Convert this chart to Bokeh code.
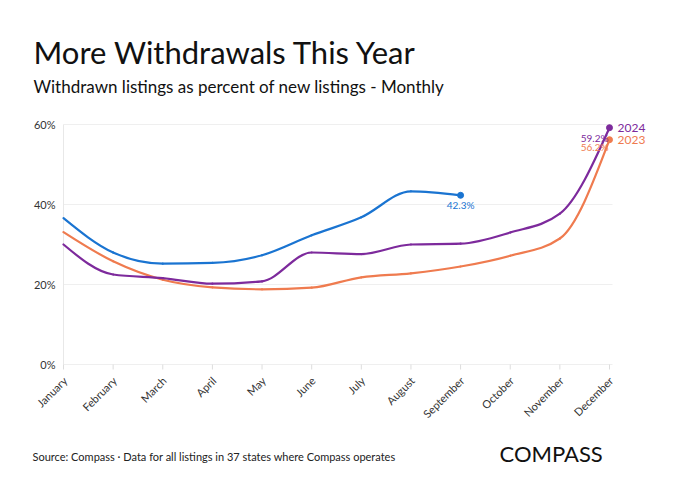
import numpy as np
from math import pi
from bokeh.plotting import figure
from bokeh.models import Range1d, Label
from bokeh.core.properties import value
from bokeh.embed import file_html
from bokeh.resources import INLINE

months = ["January", "February", "March", "April", "May", "June", "July",
          "August", "September", "October", "November", "December"]
y_ticks = [0, 20, 40, 60]
this_year = [36.6, 28.0, 25.2, 25.4, 27.3, 32.3, 36.8, 43.3, 42.3]
y2024 = [30.0, 22.5, 21.6, 20.2, 20.8, 28.0, 27.6, 30.0, 30.2, 33.0, 37.7, 59.2]
y2023 = [33.1, 25.8, 21.2, 19.3, 18.8, 19.2, 21.8, 22.8, 24.5, 27.2, 31.5, 56.2]

title = "More Withdrawals This Year"
subtitle = "Withdrawn listings as percent of new listings - Monthly"
source = "Source: Compass \u00b7 Data for all listings in 37 states where Compass operates"
logo = "COMPASS"

BLUE = "#1a74d1"
PURPLE = "#7d2a9c"
ORANGE = "#ef7b4f"
FONT = "Lato"
W, H = 672, 483
LEFT = 63        # canvas x of January / the y axis
STEP = 49.636    # pixels per month
BASE = 364       # canvas y of 0%
PPU = 4.0        # pixels per percentage point


def X(px):
    return (px - LEFT) / STEP


def Y(py):
    return (BASE - py) / PPU


def monotone_beziers(ys):
    xs = np.arange(len(ys), dtype=float)
    ys = np.asarray(ys, dtype=float)
    n = len(xs)
    h = np.diff(xs)
    s = np.diff(ys) / h
    t = np.zeros(n)
    for i in range(1, n - 1):
        h0, h1 = h[i - 1], h[i]
        s0, s1 = s[i - 1], s[i]
        p_ = (s0 * h1 + s1 * h0) / (h0 + h1)
        t[i] = (np.sign(s0) + np.sign(s1)) * min(abs(s0), abs(s1), 0.5 * abs(p_))
    t[0] = (3 * s[0] - t[1]) / 2
    t[-1] = (3 * s[-1] - t[-2]) / 2
    dx = h / 3.0
    return dict(x0=xs[:-1], y0=ys[:-1], x1=xs[1:], y1=ys[1:],
                cx0=xs[:-1] + dx, cy0=ys[:-1] + dx * t[:-1],
                cx1=xs[1:] - dx, cy1=ys[1:] - dx * t[1:])


p = figure(width=W, height=H, output_backend="svg", toolbar_location=None,
           title=None,
           x_range=Range1d(X(0), X(W)), y_range=Range1d(Y(H), Y(0)),
           min_border_left=0, min_border_right=0, min_border_top=0,
           min_border_bottom=0, x_axis_location=None, y_axis_location=None)
p.outline_line_color = None
p.xgrid.visible = False
p.ygrid.visible = False

tick_x = list(range(len(months)))
x_end = X(612)

# grid, axis line, ticks
p.segment(x0=[0] * len(y_ticks), x1=[x_end] * len(y_ticks), y0=y_ticks, y1=y_ticks,
          line_color="#efefef", line_width=1)
p.segment(x0=[0], x1=[0], y0=[0], y1=[y_ticks[-1]], line_color="#e8e8e8", line_width=1)
p.segment(x0=tick_x, x1=tick_x, y0=[0] * len(tick_x), y1=[-5 / PPU] * len(tick_x),
          line_color="#dddddd", line_width=1)

# axis labels
p.text(x=[-8 / STEP] * len(y_ticks), y=y_ticks, text=[f"{v}%" for v in y_ticks],
       text_font=value(FONT), text_font_size="11px", text_color="#333333",
       text_align="right", text_baseline="middle")
p.text(x=[i + 1.5 / STEP for i in tick_x], y=[-14 / PPU] * len(tick_x), text=months,
       angle=pi / 4, text_font=value(FONT), text_font_size="11px", text_color="#333333",
       text_align="right", text_baseline="middle")

# series
for ys, col in [(y2023, ORANGE), (y2024, PURPLE), (this_year, BLUE)]:
    seg = monotone_beziers(ys)
    p.bezier(line_color=col, line_width=2.2, line_cap="round", **seg)
    p.scatter([len(ys) - 1], [ys[-1]], size=6, color=col)

lbl = dict(text_font=FONT)
p.add_layout(Label(x=len(this_year) - 1, y=this_year[-1], text=f"{this_year[-1]:.1f}%",
                   text_color=BLUE, text_font_size="10px", text_align="center",
                   text_baseline="middle", y_offset=-10, **lbl))
p.add_layout(Label(x=len(y2024) - 1, y=y2024[-1], text=f"{y2024[-1]:.1f}%",
                   text_color=PURPLE, text_font_size="10px", text_align="right",
                   text_baseline="middle", x_offset=-1, y_offset=-10, **lbl))
p.add_layout(Label(x=len(y2023) - 1, y=y2023[-1], text=f"{y2023[-1]:.1f}%",
                   text_color=ORANGE, text_font_size="10px", text_align="right",
                   text_baseline="middle", x_offset=-1, y_offset=-7, **lbl))
p.add_layout(Label(x=len(y2024) - 1, y=y2024[-1], text="2024",
                   text_color=PURPLE, text_font_size="12px", text_align="left",
                   text_baseline="middle", x_offset=8, **lbl))
p.add_layout(Label(x=len(y2023) - 1, y=y2023[-1], text="2023",
                   text_color=ORANGE, text_font_size="12px", text_align="left",
                   text_baseline="middle", x_offset=8, **lbl))

# header and footer texts
p.text(x=[X(33)], y=[Y(51.5)], text=[title], text_font=value(FONT), text_font_size="31px",
       text_color="#111111", text_baseline="alphabetic")
p.text(x=[X(33)], y=[Y(86)], text=[subtitle], text_font=value(FONT), text_font_size="17px",
       text_color="#111111", text_baseline="alphabetic")
p.text(x=[X(32)], y=[Y(455.5)], text=[source], text_font=value(FONT), text_font_size="11px",
       text_color="#222222", text_baseline="alphabetic")
p.text(x=[X(499)], y=[Y(453)], text=[logo], text_font=value(FONT), text_font_size="22px",
       text_color="#111111", text_baseline="alphabetic")

open("out.html", "w").write(file_html(p, INLINE))
